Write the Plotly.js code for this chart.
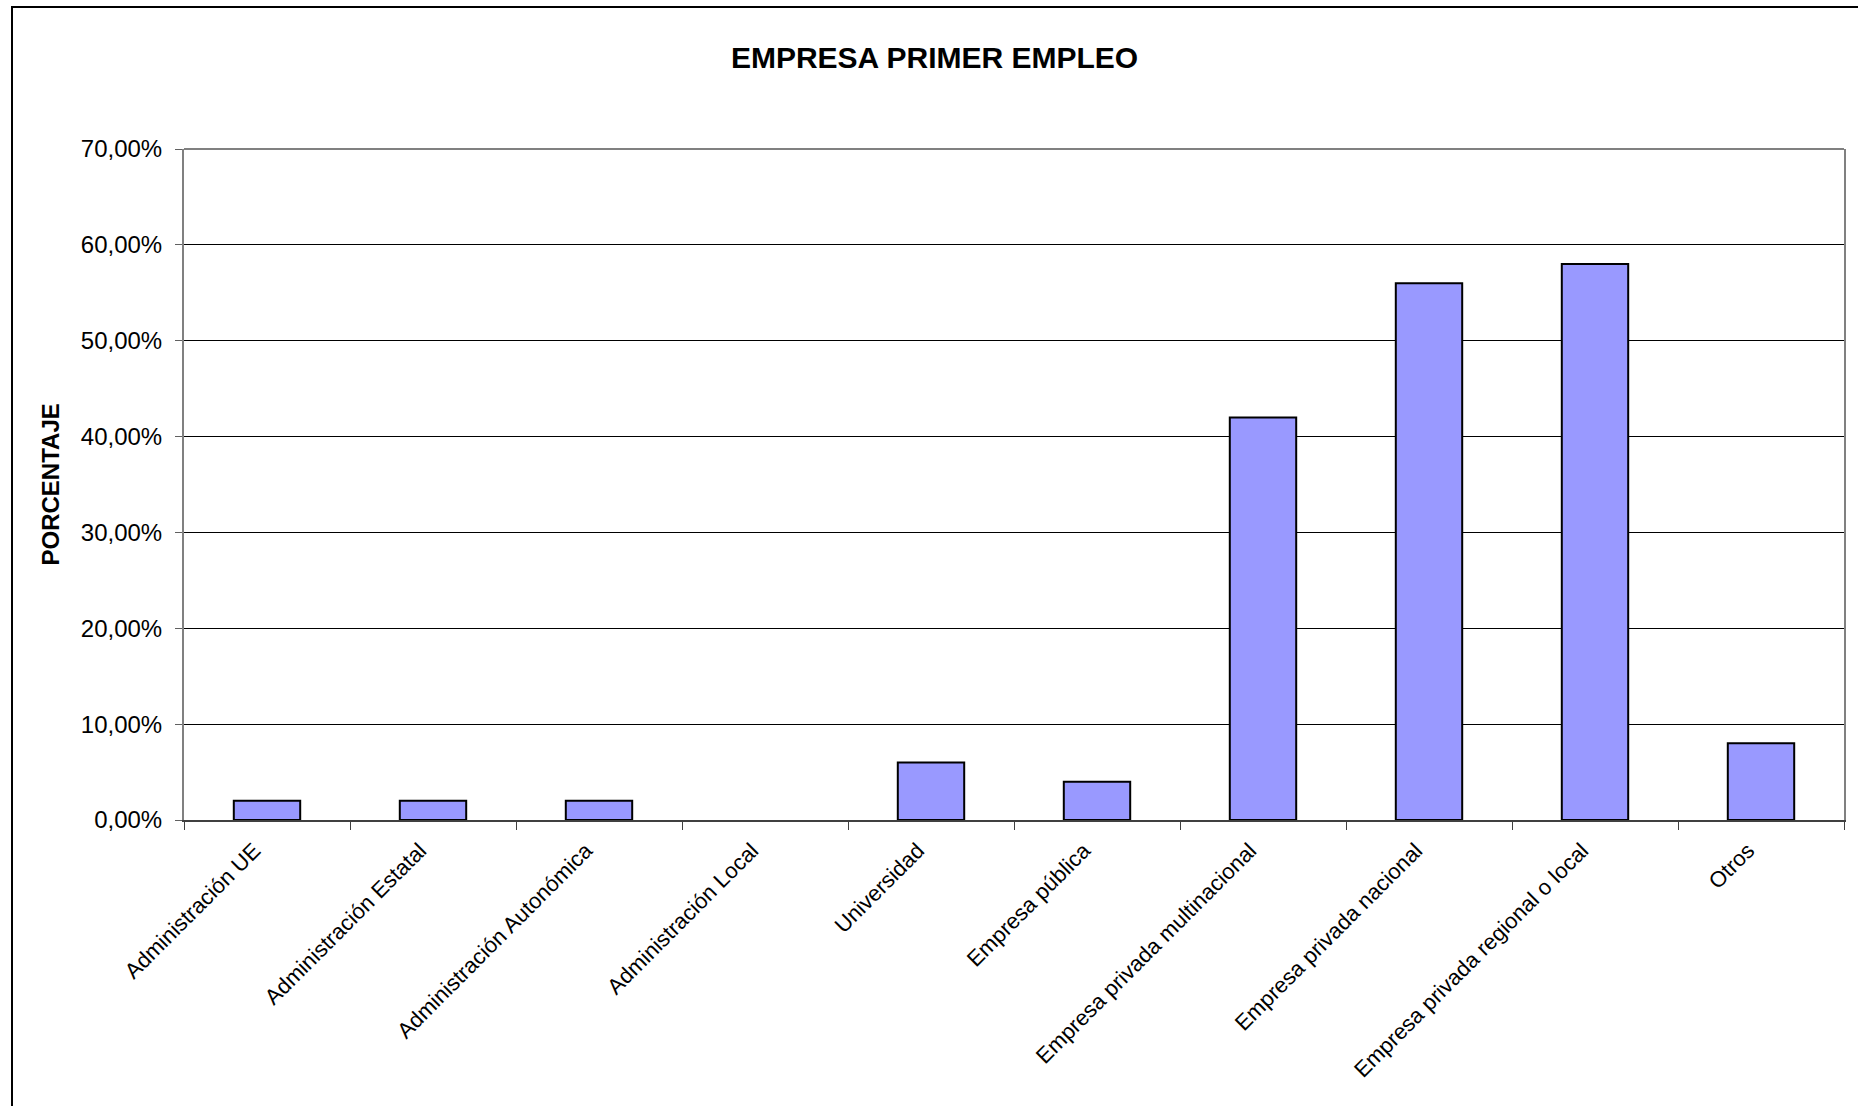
<!DOCTYPE html>
<html>
<head>
<meta charset="utf-8">
<script src="https://cdn.plot.ly/plotly-3.0.1.min.js"></script>
<style>
  html, body { margin: 0; padding: 0; background: #fff; overflow: hidden; }
  #chart { position: absolute; left: 0; top: 0; width: 1858px; height: 1106px; }
  #frame { position: absolute; left: 11px; top: 6px; width: 1900px; height: 1200px;
           border-left: 2px solid #000; border-top: 2px solid #000; pointer-events: none; }
</style>
</head>
<body>
<div id="chart"></div>
<div id="frame"></div>
<script>
const categories = [
  "Administración UE",
  "Administración Estatal",
  "Administración Autonómica",
  "Administración Local",
  "Universidad",
  "Empresa pública",
  "Empresa privada multinacional",
  "Empresa privada nacional",
  "Empresa privada regional o local",
  "Otros"
];
const porcentajes = [0.02, 0.02, 0.02, 0, 0.06, 0.04, 0.42, 0.56, 0.58, 0.08];
const yTickValues = [0, 0.1, 0.2, 0.3, 0.4, 0.5, 0.6, 0.7];

const FONT = "Liberation Sans, Arial, sans-serif";

const trace = {
  type: "bar",
  x: categories,
  y: porcentajes,
  width: 0.4,
  marker: {
    color: "#9999FF",
    line: { color: "#000000", width: porcentajes.map(v => (v > 0 ? 2 : 0)) }
  },
  hoverinfo: "x+y"
};

const layout = {
  width: 1858,
  height: 1106,
  margin: { l: 184, r: 14, t: 149, b: 286 },
  paper_bgcolor: "#ffffff",
  plot_bgcolor: "#ffffff",
  separators: ", ",
  showlegend: false,
  font: { family: FONT, color: "#000" },
  title: {
    text: "<b>EMPRESA PRIMER EMPLEO</b>",
    font: { family: FONT, size: 30, color: "#000" },
    x: 0.503, xanchor: "center",
    y: 1 - 57 / 1106, yanchor: "middle"
  },
  xaxis: {
    type: "category",
    tickangle: -45,
    tickfont: { family: FONT, size: 22, color: "#000" },
    ticks: "outside",
    tickson: "boundaries",
    ticklen: 8,
    tickcolor: "#404040",
    ticklabelshift: -13,
    ticklabelstandoff: 7,
    showline: true,
    linecolor: "#404040",
    linewidth: 2,
    mirror: false,
    showgrid: false,
    automargin: false
  },
  yaxis: {
    range: [0, 0.7],
    tickvals: yTickValues,
    tickformat: ".2%",
    tickfont: { family: FONT, size: 24, color: "#000" },
    ticks: "outside",
    ticklen: 7,
    tickcolor: "#606060",
    ticklabelstandoff: 8,
    showline: true,
    linecolor: "#808080",
    linewidth: 2,
    mirror: true,
    showgrid: true,
    gridcolor: "#000000",
    gridwidth: 1,
    zeroline: false,
    automargin: false
  },
  shapes: [
    { type: "line", xref: "paper", yref: "paper", x0: 0, x1: 1, y0: 1, y1: 1,
      line: { color: "#808080", width: 2 } }
  ],
  annotations: [
    {
      text: "<b>PORCENTAJE</b>",
      xref: "paper", yref: "paper",
      x: (50 - 184) / 1660, y: 0.5,
      xanchor: "center", yanchor: "middle",
      textangle: -90,
      showarrow: false,
      font: { family: FONT, size: 24, color: "#000" }
    }
  ]
};

Plotly.newPlot("chart", [trace], layout, { displayModeBar: false, staticPlot: true });
</script>
</body>
</html>
